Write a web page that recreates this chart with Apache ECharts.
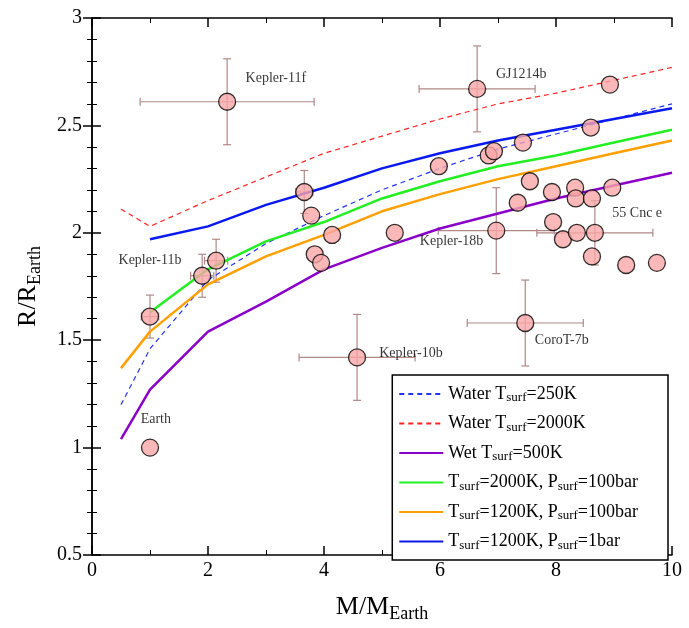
<!DOCTYPE html>
<html><head><meta charset="utf-8">
<script src="https://cdn.jsdelivr.net/npm/echarts@6/dist/echarts.min.js"></script>
<style>html,body{margin:0;background:#fff}#c{width:689px;height:628px}</style>
</head><body><div id="c"></div>
<script>
const massGrid = [0.5, 1, 2, 3, 4, 5, 6, 7, 8, 9, 10];
const water250 = [1.2, 1.46, 1.78, 1.95, 2.08, 2.2, 2.3, 2.39, 2.46, 2.53, 2.6];
const water2000 = [2.11, 2.03, 2.15, 2.26, 2.37, 2.45, 2.53, 2.6, 2.65, 2.71, 2.77];
const wet500 = [1.04, 1.27, 1.54, 1.68, 1.83, 1.93, 2.02, 2.09, 2.16, 2.22, 2.28];
const t2000p100 = [null, 1.63, 1.83, 1.96, 2.05, 2.16, 2.24, 2.31, 2.36, 2.42, 2.48];
const t1200p100 = [1.37, 1.54, 1.76, 1.89, 1.99, 2.1, 2.18, 2.25, 2.31, 2.37, 2.43];
const t1200p1 = [null, 1.97, 2.03, 2.13, 2.21, 2.3, 2.37, 2.43, 2.48, 2.53, 2.58];
// planets: [mass, radius, massErr, radiusErr]
const planets = [
  [1.0, 1.0, 0, 0], [1.0, 1.61, 0.15, 0.1], [1.9, 1.8, 0.2, 0.1], [2.14, 1.87, 0.2, 0.1],
  [2.33, 2.61, 1.5, 0.2], [3.66, 2.19, 0.15, 0.1], [3.78, 2.08, 0, 0], [3.84, 1.9, 0, 0],
  [3.95, 1.86, 0, 0], [4.14, 1.99, 0, 0], [4.57, 1.42, 1.0, 0.2], [5.22, 2.0, 0, 0],
  [5.98, 2.31, 0, 0], [6.64, 2.67, 1.0, 0.2], [6.84, 2.36, 0, 0], [6.93, 2.38, 0, 0],
  [7.43, 2.42, 0, 0], [6.97, 2.01, 1.0, 0.2], [7.55, 2.24, 0, 0], [7.34, 2.14, 0, 0],
  [7.93, 2.19, 0, 0], [7.95, 2.05, 0, 0], [8.12, 1.97, 0, 0], [8.33, 2.21, 0, 0],
  [8.34, 2.16, 0, 0], [8.36, 2.0, 0, 0], [8.6, 2.49, 0, 0], [8.62, 2.16, 0, 0],
  [8.62, 1.89, 0, 0], [8.67, 2.0, 1.0, 0.15], [8.97, 2.21, 0, 0], [8.93, 2.69, 0, 0],
  [9.21, 1.85, 0, 0], [9.74, 1.86, 0, 0], [7.47, 1.58, 1.0, 0.2]
];
const labels = [
  ['Kepler-11f', 3.17, 2.72], ['GJ1214b', 7.4, 2.74], ['55 Cnc e', 9.4, 2.09],
  ['Kepler-18b', 6.2, 1.96], ['Kepler-11b', 1.0, 1.87], ['CoroT-7b', 8.1, 1.5],
  ['Kepler-10b', 5.5, 1.44], ['Earth', 1.1, 1.13]
];
const names = ['Water T{s|surf}=250K', 'Water T{s|surf}=2000K', 'Wet T{s|surf}=500K',
  'T{s|surf}=2000K, P{s|surf}=100bar', 'T{s|surf}=1200K, P{s|surf}=100bar', 'T{s|surf}=1200K, P{s|surf}=1bar'];
const font = 'Liberation Serif';
const chart = echarts.init(document.getElementById('c'));
const zip = ys => massGrid.map((x, i) => [x, ys[i]]).filter(p => p[1] != null);
function line(name, ys, color, dashed, w) {
  return {name, type: 'line', data: zip(ys), symbol: 'none', z: 3,
    lineStyle: {color, width: w, type: dashed ? [5, 4] : 'solid'}, itemStyle: {color}};
}
const axisCommon = {
  axisLine: {lineStyle: {color: '#000', width: 1.5}},
  axisTick: {inside: true, length: 9, lineStyle: {color: '#000', width: 1.5}},
  minorTick: {show: true, length: 5, lineStyle: {color: '#000'}},
  splitLine: {show: false}
};
const xCommon = Object.assign({}, axisCommon, {min: 0, max: 10, interval: 2,
  minorTick: Object.assign({}, axisCommon.minorTick, {splitNumber: 2})});
const yCommon = Object.assign({}, axisCommon, {min: 0.5, max: 3, interval: 0.5,
  minorTick: Object.assign({}, axisCommon.minorTick, {splitNumber: 5})});
chart.setOption({
  animation: false,
  grid: {left: 92, right: 17, top: 18, bottom: 66},
  xAxis: [
    Object.assign({}, xCommon, {type: 'value', position: 'bottom', name: 'M/M{s|Earth}', nameLocation: 'middle', nameGap: 36,
      nameTextStyle: {fontFamily: font, fontSize: 26, color: '#000', rich: {s: {fontSize: 18, padding: [14, 0, 0, 0]}}},
      axisLabel: {fontFamily: font, fontSize: 20, color: '#000', margin: 6}}),
    Object.assign({}, xCommon, {type: 'value', position: 'top', axisLabel: {show: false}})
  ],
  yAxis: [
    Object.assign({}, yCommon, {type: 'value', position: 'left',
      name: 'R/R{s|Earth}', nameLocation: 'middle', nameGap: 48, nameRotate: 90,
      nameTextStyle: {fontFamily: font, fontSize: 26, color: '#000', rich: {s: {fontSize: 18, padding: [14, 0, 0, 0]}}},
      axisLabel: {fontFamily: font, fontSize: 20, color: '#000', margin: 10, formatter: v => String(v)}}),
    Object.assign({}, yCommon, {type: 'value', position: 'right', axisLabel: {show: false}})
  ],
  legend: {
    orient: 'vertical', right: 21, bottom: 68,
    data: names, backgroundColor: '#fff', borderColor: '#000', borderWidth: 1.5,
    padding: [10, 30, 8, 6], itemGap: 10, itemWidth: 44, itemHeight: 14,
    itemStyle: {opacity: 0},
    textStyle: {fontFamily: font, fontSize: 18, color: '#000', rich: {s: {fontSize: 13, padding: [8, 0, 0, 0]}}}
  },
  series: [
    line(names[0], water250, '#2233ff', true, 1.2),
    line(names[1], water2000, '#ff2222', true, 1.2),
    line(names[2], wet500, '#8a00c8', false, 2.5),
    line(names[3], t2000p100, '#22ee22', false, 2.5),
    line(names[4], t1200p100, '#ffa000', false, 2.5),
    line(names[5], t1200p1, '#0a1aee', false, 2.5),
    {type: 'custom', z: 2, data: planets, renderItem: (p, api) => {
      const x = api.value(0), y = api.value(1), ex = api.value(2), ey = api.value(3);
      if (!ex && !ey) return;
      const c = api.coord([x, y]);
      const l = api.coord([x - ex, y]), r = api.coord([x + ex, y]);
      const t = api.coord([x, y + ey]), b = api.coord([x, y - ey]);
      const st = {stroke: '#b08888', lineWidth: 1.2};
      const seg = (a, b2) => ({type: 'line', shape: {x1: a[0], y1: a[1], x2: b2[0], y2: b2[1]}, style: st});
      return {type: 'group', children: [
        seg(l, r), seg(t, b),
        seg([l[0], c[1] - 4], [l[0], c[1] + 4]), seg([r[0], c[1] - 4], [r[0], c[1] + 4]),
        seg([c[0] - 4, t[1]], [c[0] + 4, t[1]]), seg([c[0] - 4, b[1]], [c[0] + 4, b[1]])
      ]};
    }},
    {type: 'scatter', z: 4, data: planets.map(p => [p[0], p[1]]), symbolSize: 17,
      itemStyle: {color: '#f9a6a6', borderColor: '#000', borderWidth: 1.3}},
    {type: 'scatter', z: 5, symbolSize: 0, silent: true, data: labels.map(l => [l[1], l[2], l[0]]),
      label: {show: true, formatter: p => p.data[2], fontFamily: font, fontSize: 14, color: '#000', position: 'inside'}}
  ]
});
</script></body></html>
